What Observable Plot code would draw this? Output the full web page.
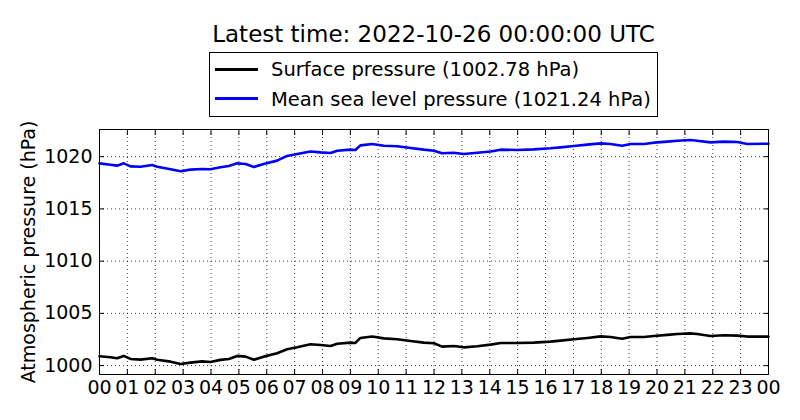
<!DOCTYPE html>
<html><head><meta charset="utf-8">
<script src="https://cdn.jsdelivr.net/npm/d3@7"></script>
<script src="https://cdn.jsdelivr.net/npm/@observablehq/plot@0.6"></script>
<style>
body{margin:0;background:#fff;font-family:"DejaVu Sans",sans-serif;color:#000;}
#wrap{position:relative;width:800px;height:420px;overflow:hidden;background:#fff;}
#head{position:relative;width:800px;height:120px;}
#title{position:absolute;left:99px;width:669px;top:23px;text-align:center;font-size:23px;line-height:23px;white-space:nowrap;}
#legend{position:absolute;left:209px;top:52px;width:447px;height:63px;border:1px solid #000;}
.sw{position:absolute;left:5px;width:43px;height:3px;}
.lab{position:absolute;left:61px;font-size:19.5px;line-height:19.5px;white-space:nowrap;}
#chart svg{display:block;}
</style></head>
<body>
<div id="wrap">
  <div id="head">
    <div id="title"></div>
    <div id="legend">
      <div class="sw" id="sw0" style="top:15px"></div><div class="lab" id="lab0" style="top:7px"></div>
      <div class="sw" id="sw1" style="top:44px"></div><div class="lab" id="lab1" style="top:36.5px"></div>
    </div>
  </div>
  <div id="chart"></div>
</div>
<script>
const titleText = "Latest time: 2022-10-26 00:00:00 UTC";
const seriesNames = ["Surface pressure", "Mean sea level pressure"];
const seriesColors = ["#000000", "#0000ff"];
const latestValues = ["1002.78", "1021.24"];
const yLabel = "Atmospheric pressure (hPa)";

const hours = [0, 0.39, 0.63, 0.87, 1.11, 1.47, 1.89, 2.07, 2.55, 2.91, 3.26, 3.68, 3.98, 4.34, 4.64, 4.94, 5.24, 5.54, 5.89, 6.37, 6.73, 7.09, 7.57, 7.93, 8.29, 8.53, 9.00, 9.18, 9.36, 9.78, 10.20, 10.68, 11.16, 11.63, 12.00, 12.29, 12.71, 13.07, 13.55, 14.03, 14.39, 14.98, 15.58, 16.18, 16.54, 17.02, 17.50, 17.98, 18.33, 18.75, 19.05, 19.53, 19.89, 20.37, 20.73, 21.20, 21.44, 21.92, 22.40, 22.88, 23.24, 24.00];
const surface = [1000.89, 1000.80, 1000.70, 1000.93, 1000.64, 1000.57, 1000.70, 1000.57, 1000.38, 1000.16, 1000.29, 1000.41, 1000.35, 1000.55, 1000.64, 1000.93, 1000.86, 1000.57, 1000.86, 1001.18, 1001.56, 1001.75, 1002.04, 1001.98, 1001.88, 1002.10, 1002.20, 1002.17, 1002.65, 1002.78, 1002.61, 1002.52, 1002.36, 1002.20, 1002.14, 1001.82, 1001.88, 1001.75, 1001.85, 1002.01, 1002.17, 1002.17, 1002.20, 1002.30, 1002.39, 1002.52, 1002.65, 1002.80, 1002.74, 1002.58, 1002.74, 1002.74, 1002.84, 1002.94, 1003.03, 1003.09, 1003.03, 1002.84, 1002.90, 1002.87, 1002.78, 1002.78];
const msl = [1019.36, 1019.23, 1019.14, 1019.36, 1019.07, 1019.04, 1019.20, 1019.04, 1018.79, 1018.60, 1018.76, 1018.82, 1018.79, 1018.98, 1019.11, 1019.36, 1019.30, 1019.01, 1019.30, 1019.62, 1020.07, 1020.26, 1020.50, 1020.41, 1020.35, 1020.57, 1020.67, 1020.64, 1021.08, 1021.21, 1021.05, 1020.99, 1020.83, 1020.67, 1020.57, 1020.32, 1020.38, 1020.26, 1020.38, 1020.50, 1020.67, 1020.64, 1020.70, 1020.80, 1020.89, 1021.02, 1021.15, 1021.27, 1021.21, 1021.05, 1021.21, 1021.21, 1021.34, 1021.44, 1021.53, 1021.59, 1021.53, 1021.37, 1021.44, 1021.40, 1021.21, 1021.24];

const xTicks = [0, 1, 2, 3, 4, 5, 6, 7, 8, 9, 10, 11, 12, 13, 14, 15, 16, 17, 18, 19, 20, 21, 22, 23, 24];
const xTickLabels = ["00","01","02","03","04","05","06","07","08","09","10","11","12","13","14","15","16","17","18","19","20","21","22","23","00"];
const yTicks = [1000, 1005, 1010, 1015, 1020];
const yDomain = [999.15, 1022.6];

document.getElementById("title").textContent = titleText;
for (let i = 0; i < 2; i++) {
  document.getElementById("sw" + i).style.background = seriesColors[i];
  document.getElementById("lab" + i).textContent = `${seriesNames[i]} (${latestValues[i]} hPa)`;
}

const gridStyle = {stroke: "#000", strokeOpacity: 0.75, strokeWidth: 1, strokeDasharray: "1,3"};
const blank = () => "";
const chart = Plot.plot({
  width: 800,
  height: 300,
  marginTop: 9,
  marginBottom: 46,
  marginLeft: 99,
  marginRight: 32,
  style: {fontFamily: '"DejaVu Sans", sans-serif', fontSize: "19px", color: "#000", background: "#fff"},
  x: {type: "linear", domain: [0, 24]},
  y: {type: "linear", domain: yDomain},
  marks: [
    Plot.gridX(xTicks, gridStyle),
    Plot.gridY(yTicks, gridStyle),
    Plot.line(hours, {x: hours, y: surface, stroke: seriesColors[0], strokeWidth: 2.6}),
    Plot.line(hours, {x: hours, y: msl, stroke: seriesColors[1], strokeWidth: 2.6}),
    Plot.axisX(xTicks, {anchor: "bottom", tickSize: 0, tickPadding: 6, tickFormat: d => xTickLabels[xTicks.indexOf(d)], label: null}),
    Plot.axisX(xTicks, {anchor: "bottom", tickSize: -5, tickFormat: blank, label: null}),
    Plot.axisX(xTicks, {anchor: "top", tickSize: -5, tickFormat: blank, label: null}),
    Plot.axisY(yTicks, {anchor: "left", tickSize: 0, tickPadding: 7, tickFormat: d => String(d), label: yLabel, labelAnchor: "center", labelOffset: 78, labelArrow: "none"}),
    Plot.axisY(yTicks, {anchor: "left", tickSize: -5, tickFormat: blank, label: null}),
    Plot.axisY(yTicks, {anchor: "right", tickSize: -5, tickFormat: blank, label: null}),
    Plot.frame({stroke: "#000", strokeWidth: 1})
  ]
});
document.getElementById("chart").appendChild(chart);
</script>
</body></html>
